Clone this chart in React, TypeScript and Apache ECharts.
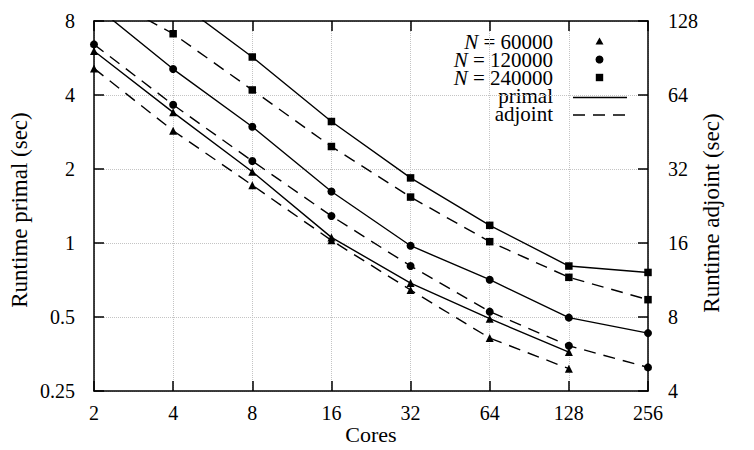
import React, { useEffect, useRef } from "react";
import * as echarts from "echarts";

// Core counts (x) and runtimes in seconds; null = no point recorded / off-scale
const cores = [2, 4, 8, 16, 32, 64, 128, 256];

const primal60k = [6.04, 3.4, 1.95, 1.054, 0.687, 0.492, 0.36, null];
const primal120k = [9.3, 5.1, 2.97, 1.62, 0.975, 0.709, 0.497, 0.43];
const primal240k = [null, 9.9, 5.71, 3.12, 1.84, 1.18, 0.806, 0.759];

const adjoint60k = [82.1, 45.8, 27.5, 16.4, 10.3, 6.57, 4.93, null];
const adjoint120k = [102.8, 58.4, 34.5, 20.6, 12.9, 8.41, 6.11, 4.99];
const adjoint240k = [170, 113.6, 67.1, 39.5, 24.6, 16.2, 11.6, 9.41];

const legendSizes = ["60000", "120000", "240000"];

const FONT = "Liberation Serif";
const INK = "#000";

const pairs = (vals: (number | null)[]) =>
  cores.map((c, i) => [c, vals[i]]).filter((p) => p[1] !== null);

const fmt = (v: number) => String(+Number(v).toFixed(2));

export default function App() {
  const ref = useRef<HTMLDivElement>(null);

  useEffect(() => {
    if (!ref.current) return;
    const chart = echarts.init(ref.current, undefined, { renderer: "svg" });

    const axisLine = { show: true, lineStyle: { color: INK, width: 1.5 } };
    const axisTick = { show: true, inside: true, length: 10, lineStyle: { color: INK, width: 1.5 } };
    const label = { color: INK, fontSize: 20, fontFamily: FONT };
    const grid = { show: true, lineStyle: { color: "#c4c4c4", type: "dotted" as const, width: 1 } };
    const nameStyle = { color: INK, fontSize: 23, fontFamily: FONT };

    const mk = (
      name: string,
      vals: (number | null)[],
      yAxisIndex: number,
      symbol: string,
      symbolSize: number,
      dashed: boolean
    ) => ({
      type: "line" as const,
      name,
      yAxisIndex,
      data: pairs(vals),
      symbol,
      symbolSize,
      showAllSymbol: true,
      clip: true,
      itemStyle: { color: INK },
      lineStyle: { color: INK, width: 1.4, type: dashed ? [12, 8] : "solid" },
      emphasis: { disabled: true },
    });

    const rowY = [41.5, 59.5, 77.5, 95.5, 113.5];
    const textX = 553;
    const markX = 599.5;

    const legendText = (text: string, y: number) => ({
      type: "text",
      x: textX,
      y,
      style: {
        text,
        align: "right",
        verticalAlign: "middle",
        fill: INK,
        fontSize: 21,
        lineHeight: 17,
        fontFamily: FONT,
        rich: { n: { fontStyle: "italic", fontSize: 21, lineHeight: 17, fontFamily: FONT, fill: INK } },
      },
    });

    chart.setOption({
      animation: false,
      backgroundColor: "#fff",
      textStyle: { fontFamily: FONT },
      grid: { left: 92, right: 106, top: 21, bottom: 59 },
      xAxis: [
        {
          type: "log",
          logBase: 2,
          min: 2,
          max: 256,
          interval: 1,
          position: "bottom",
          name: "Cores",
          nameLocation: "middle",
          nameGap: 32,
          nameMoveOverlap: false,
          nameTextStyle: { ...nameStyle, fontSize: 22 },
          axisLine,
          axisTick,
          axisLabel: { ...label, margin: 12, formatter: fmt },
          splitLine: grid,
        },
        {
          type: "log",
          logBase: 2,
          min: 2,
          max: 256,
          interval: 1,
          position: "top",
          axisLine,
          axisTick,
          axisLabel: { show: false },
          splitLine: { show: false },
        },
      ],
      yAxis: [
        {
          type: "log",
          logBase: 2,
          min: 0.25,
          max: 8,
          interval: 1,
          position: "left",
          name: "Runtime primal (sec)",
          nameLocation: "middle",
          nameRotate: 90,
          nameGap: 63,
          nameMoveOverlap: false,
          nameTextStyle: { ...nameStyle, padding: [0, 8, 0, 0] },
          axisLine,
          axisTick,
          axisLabel: { ...label, margin: 19, formatter: fmt },
          splitLine: grid,
        },
        {
          type: "log",
          logBase: 2,
          min: 4,
          max: 128,
          interval: 1,
          position: "right",
          name: "Runtime adjoint (sec)",
          nameLocation: "middle",
          nameRotate: 90,
          nameGap: 52,
          nameMoveOverlap: false,
          nameTextStyle: { ...nameStyle, padding: [0, 14, 0, 0] },
          axisLine,
          axisTick,
          axisLabel: { ...label, margin: 20, formatter: fmt },
          splitLine: { show: false },
        },
      ],
      series: [
        mk("primal N=60000", primal60k, 0, "triangle", 8, false),
        mk("primal N=120000", primal120k, 0, "circle", 8, false),
        mk("primal N=240000", primal240k, 0, "rect", 7.5, false),
        mk("adjoint N=60000", adjoint60k, 1, "triangle", 8, true),
        mk("adjoint N=120000", adjoint120k, 1, "circle", 8, true),
        mk("adjoint N=240000", adjoint240k, 1, "rect", 7.5, true),
      ],
      graphic: [
        ...legendSizes.map((n, i) => legendText(`{n|N} = ${n}`, rowY[i])),
        legendText("primal", rowY[3]),
        legendText("adjoint", rowY[4]),
        {
          type: "polygon",
          shape: { points: [[markX, rowY[0] - 4], [markX + 4, rowY[0] + 3], [markX - 4, rowY[0] + 3]] },
          style: { fill: INK },
        },
        { type: "circle", shape: { cx: markX, cy: rowY[1], r: 4 }, style: { fill: INK } },
        { type: "rect", shape: { x: markX - 3.7, y: rowY[2] - 3.7, width: 7.4, height: 7.4 }, style: { fill: INK } },
        {
          type: "line",
          shape: { x1: 573, y1: 97.5, x2: 627, y2: 97.5 },
          style: { stroke: INK, lineWidth: 1.4 },
        },
        {
          type: "line",
          shape: { x1: 573, y1: 115, x2: 627, y2: 115 },
          style: { stroke: INK, lineWidth: 1.4, lineDash: [12, 8] },
        },
      ],
    });

    return () => chart.dispose();
  }, []);

  return (
    <div
      ref={ref}
      style={{ position: "fixed", left: 0, top: 0, width: 754, height: 450, background: "#fff" }}
    />
  );
}
